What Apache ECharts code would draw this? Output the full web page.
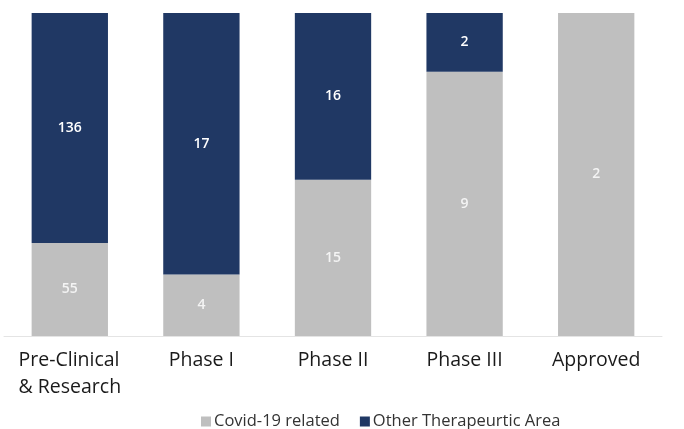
<!DOCTYPE html>
<html>
<head>
<meta charset="utf-8">
<script src="https://cdn.jsdelivr.net/npm/echarts@6/dist/echarts.min.js"></script>
<style>html,body{margin:0;padding:0;background:#fff}#chart{width:684px;height:429px}</style>
</head>
<body>
<div id="chart"></div>
<script>
// Pipeline stages and counts per stage
const categories = ['Pre-Clinical\n& Research', 'Phase I', 'Phase II', 'Phase III', 'Approved'];
const covidRelated = [55, 4, 15, 9, 2];
const otherArea = [136, 17, 16, 2, 0];

// Each bar is shown as a share of its stage total; labels keep the raw counts
const totals = covidRelated.map((v, i) => v + otherArea[i]);
const toShare = arr => arr.map((v, i) => ({ value: v / totals[i] * 100, count: v }));

const chart = echarts.init(document.getElementById('chart'));
chart.setOption({
  animation: false,
  textStyle: { fontFamily: 'Open Sans' },
  grid: { left: 4, right: 22, top: 13, bottom: 93, containLabel: false },
  legend: {
    left: 196,
    top: 408,
    itemWidth: 10,
    itemHeight: 10,
    itemGap: 20,
    icon: 'rect',
    textStyle: { fontSize: 16.5, color: '#333', padding: [0, 0, 0, -2] },
    data: ['Covid-19 related', 'Other Therapeurtic Area']
  },
  xAxis: {
    type: 'category',
    data: categories,
    axisTick: { show: false },
    axisLine: { lineStyle: { color: '#e4e4e4', width: 1 } },
    axisLabel: {
      margin: 11,
      interval: 0,
      formatter: v => '{a|' + v.split('\n').join('}\n{a|') + '}',
      rich: {
        a: { fontSize: 19.5, color: '#1a1a1a', lineHeight: 27, align: 'left' }
      }
    }
  },
  yAxis: { type: 'value', min: 0, max: 100, show: false, splitLine: { show: false } },
  series: [
    {
      name: 'Covid-19 related',
      type: 'bar',
      stack: 'share',
      barWidth: '58%',
      itemStyle: { color: '#bfbfbf' },
      label: {
        show: true,
        position: 'inside',
        color: '#f4f4f4',
        fontSize: 14,
        fontWeight: 600,
        formatter: p => p.data.count > 0 ? String(p.data.count) : ''
      },
      data: toShare(covidRelated)
    },
    {
      name: 'Other Therapeurtic Area',
      type: 'bar',
      stack: 'share',
      barWidth: '58%',
      itemStyle: { color: '#203864' },
      label: {
        show: true,
        position: 'inside',
        color: '#ffffff',
        fontSize: 14,
        fontWeight: 600,
        formatter: p => p.data.count > 0 ? String(p.data.count) : ''
      },
      data: toShare(otherArea)
    }
  ]
});
</script>
</body>
</html>
